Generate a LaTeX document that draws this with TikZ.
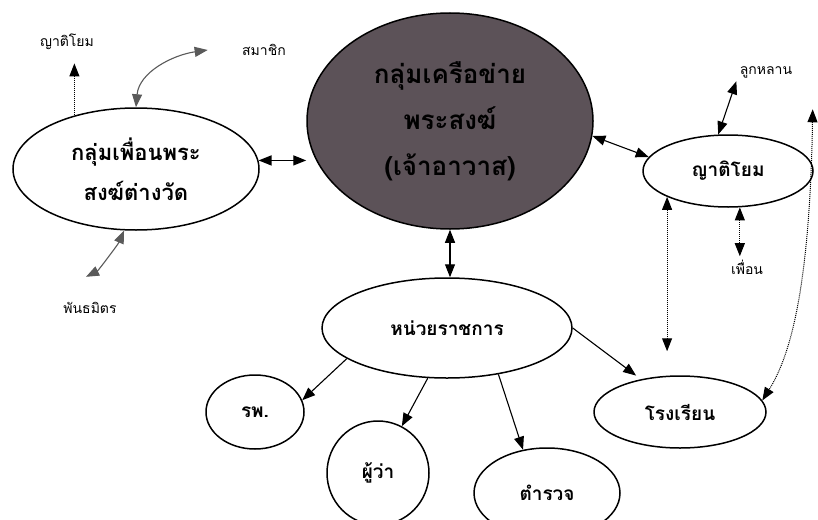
\documentclass[tikz,border=0pt]{standalone}
\usepackage{fontspec}
\newfontfamily\thaifont[Script=Thai]{Loma}
\usetikzlibrary{shapes.geometric, arrows.meta}
\definecolor{netgray}{RGB}{92, 82, 88}
\definecolor{linegray}{RGB}{90, 90, 90}

\begin{document}
\begin{tikzpicture}[x=1pt, y=-1pt,
				>={Triangle[length=13pt,width=10pt]},   %Voreinstellung für Pfeilspitzen
				oval/.style={draw, ellipse, line width=1.5pt, inner sep=0pt, align=center, text=black, font=\thaifont\bfseries\fontsize{19}{22}\selectfont},
				small/.style={font=\thaifont\fontsize{14}{16}\selectfont},
				link/.style={line width=1.1pt},
				dots/.style={line width=1pt, densely dotted}]
				%Rahmen
				\useasboundingbox[fill=white] (0,0) rectangle (818,519);
				% Ellipsen
				\node[oval, fill=netgray, minimum width=286, minimum height=216, font=\thaifont\bfseries\fontsize{26}{46}\selectfont] (net) at (450,121) {กลุ่มเครือข่าย\\พระสงฆ์\\(เจ้าอาวาส)};
				\node[oval, minimum width=246, minimum height=122, font=\thaifont\bfseries\fontsize{22}{40}\selectfont] (wat) at (136,169) {กลุ่มเพื่อนพระ\\สงฆ์ต่างวัด};
				\node[oval, minimum width=170, minimum height=72] (kin) at (728,171) {ญาติโยม};
				\node[oval, minimum width=250, minimum height=100] (gov) at (447,328) {หน่วยราชการ};
				\node[oval, minimum width=172, minimum height=72] (school) at (680,412) {โรงเรียน};
				\node[oval, minimum width=98, minimum height=74] (hosp) at (255,412) {รพ.};
				\node[oval, minimum width=102, minimum height=104] (gvn) at (378,473) {ผู้ว่า};
				\node[oval, minimum width=146, minimum height=90] (pol) at (547,493) {ตำรวจ};
				% Beschriftungen
				\node[small] (kin1) at (67,42) {ญาติโยม};
				\node[small] (mem) at (264,50) {สมาชิก};
				\node[small] (ally) at (90,308) {พันธมิตร};
				\node[small] (desc) at (766,72) {ลูกหลาน};
				\node[small] (frnd) at (747,267) {เพื่อน};
				% Pfeile links
				\draw[<->, line width=1.4pt] (wat.4) -- (wat.4 -| net.west);
				\draw[->, dots, shorten >=10pt] (wat.139) -- (wat.139 |- kin1.south);
				\draw[<->, link, linegray] (wat.north) .. controls +(3,-35) and +(-35,5) .. ([xshift=-31]mem.west);
				\draw[<->, link, linegray] (wat.259) .. controls +(-6,14) and +(12,-6) .. ([shift={(-4,-22)}]ally.north);
				% Pfeile rechts
				\draw[<->, link] (net.-6) -- (kin.170);
				\draw[<->, link] (kin.105) -- (desc.south west);
				\draw[<->, dots] (kin.-72) -- (kin.-72 |- frnd.north);
				\draw[<->, dots, shorten >=24pt] (kin.203) -- (kin.203 |- school.north);
				\draw[<->, dots] ([shift={(17,28)}]desc.south east) .. controls +(-3,190) and +(25,-40) .. (school.8);
				% Pfeile unten
				\draw[<->, link] (net.south) -- (net.south |- gov.north);
				\draw[->, link] (gov.197) -- (hosp.14);
				\draw[->, link] (gov.249) -- (gvn.63);
				\draw[->, link] (gov.-42) -- (pol.119);
				\draw[->, link, shorten >=6pt] (gov.east) -- (school.140);
			\end{tikzpicture}
\end{document}
